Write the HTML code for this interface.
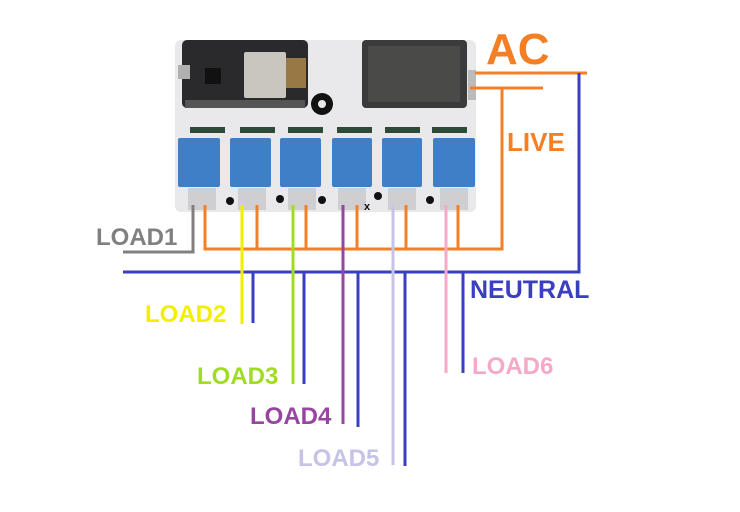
<!DOCTYPE html>
<html><head><meta charset="utf-8"><style>
html,body{margin:0;padding:0;background:#fff;}
svg{display:block}
text{font-family:"Liberation Sans",sans-serif;font-weight:bold;}
</style></head><body>
<svg width="740" height="512" viewBox="0 0 740 512" xmlns="http://www.w3.org/2000/svg">
<!-- board -->
<rect x="175" y="40" width="301" height="172" rx="6" fill="#e9e9ec"/>
<!-- ESP board -->
<rect x="182" y="40" width="126" height="68" rx="5" fill="#2a2a2c"/>
<rect x="244" y="52" width="42" height="46" rx="2" fill="#c9c6c0"/>
<rect x="286" y="58" width="20" height="30" fill="#c89a50" opacity="0.7"/>
<rect x="178" y="65" width="12" height="14" fill="#b0b0b0"/>
<rect x="205" y="68" width="16" height="16" fill="#111"/>
<rect x="185" y="100" width="120" height="8" fill="#555"/>
<!-- power module -->
<rect x="362" y="40" width="105" height="68" rx="4" fill="#3b3b3b"/>
<rect x="368" y="46" width="92" height="56" fill="#4a4a48"/>
<rect x="468" y="70" width="8" height="30" fill="#bbb"/>
<!-- gear -->
<circle cx="322" cy="104" r="11" fill="#111"/>
<circle cx="322" cy="104" r="4" fill="#e9e9ec"/>
<!-- green strips -->
<g fill="#2d4a38">
<rect x="190" y="127" width="35" height="6"/><rect x="240" y="127" width="35" height="6"/>
<rect x="288" y="127" width="35" height="6"/><rect x="337" y="127" width="35" height="6"/>
<rect x="385" y="127" width="35" height="6"/><rect x="432" y="127" width="35" height="6"/>
</g>
<!-- relays -->
<g fill="#3f7fc8">
<rect x="178" y="138" width="42" height="49" rx="2"/>
<rect x="230" y="138" width="41" height="49" rx="2"/>
<rect x="280" y="138" width="41" height="49" rx="2"/>
<rect x="332" y="138" width="40" height="49" rx="2"/>
<rect x="382" y="138" width="40" height="49" rx="2"/>
<rect x="433" y="138" width="42" height="49" rx="2"/>
</g>
<!-- terminals -->
<g fill="#cfcfd2">
<rect x="188" y="188" width="28" height="22"/><rect x="238" y="188" width="28" height="22"/>
<rect x="288" y="188" width="28" height="22"/><rect x="338" y="188" width="28" height="22"/>
<rect x="388" y="188" width="28" height="22"/><rect x="440" y="188" width="28" height="22"/>
</g>
<g fill="#111">
<circle cx="230" cy="201" r="4"/><circle cx="280" cy="199" r="4"/><circle cx="322" cy="200" r="4"/><circle cx="378" cy="196" r="4"/><circle cx="430" cy="200" r="4"/>
</g>
<text x="364" y="210" font-size="11" fill="#111">x</text>
<g fill="none" stroke-width="3">
<!-- AC/live -->
<polyline points="475,73 587,73" stroke="#f47f25"/>
<polyline points="470,88 543,88" stroke="#f47f25"/>
<polyline points="502,88 502,249 205,249 205,205" stroke="#f47f25"/>
<path d="M257 205V249M306 205V249M357 205V249M406 205V249M458 205V249" stroke="#f47f25"/>
<!-- neutral -->
<polyline points="579,73 579,272 123,272" stroke="#3a3fbf"/>
<path d="M253 272V323M304 272V384M358 272V427M405 272V466M463 272V373" stroke="#3a3fbf"/>
<!-- loads -->
<polyline points="193,205 193,252 123,252" stroke="#808080"/>
<path d="M242 205V324" stroke="#f2f000"/>
<path d="M293 205V384" stroke="#a0dc24"/>
<path d="M343 205V424" stroke="#9645a0"/>
<path d="M393 205V465" stroke="#c6c3e6"/>
<path d="M446 205V373" stroke="#f4a9c8"/>
</g>
<text x="486" y="64" font-size="44" fill="#f47f25">AC</text>
<text x="507" y="151" font-size="26" fill="#f47f25">LIVE</text>
<text x="470" y="298" font-size="25" fill="#3a3fbf">NEUTRAL</text>
<text x="96" y="245" font-size="24" fill="#808080">LOAD1</text>
<text x="145" y="322" font-size="24" fill="#f2f000">LOAD2</text>
<text x="197" y="384" font-size="24" fill="#a0dc24">LOAD3</text>
<text x="250" y="424" font-size="24" fill="#9645a0">LOAD4</text>
<text x="298" y="466" font-size="24" fill="#c6c3e6">LOAD5</text>
<text x="472" y="374" font-size="24" fill="#f4a9c8">LOAD6</text>
</svg>
</body></html>
